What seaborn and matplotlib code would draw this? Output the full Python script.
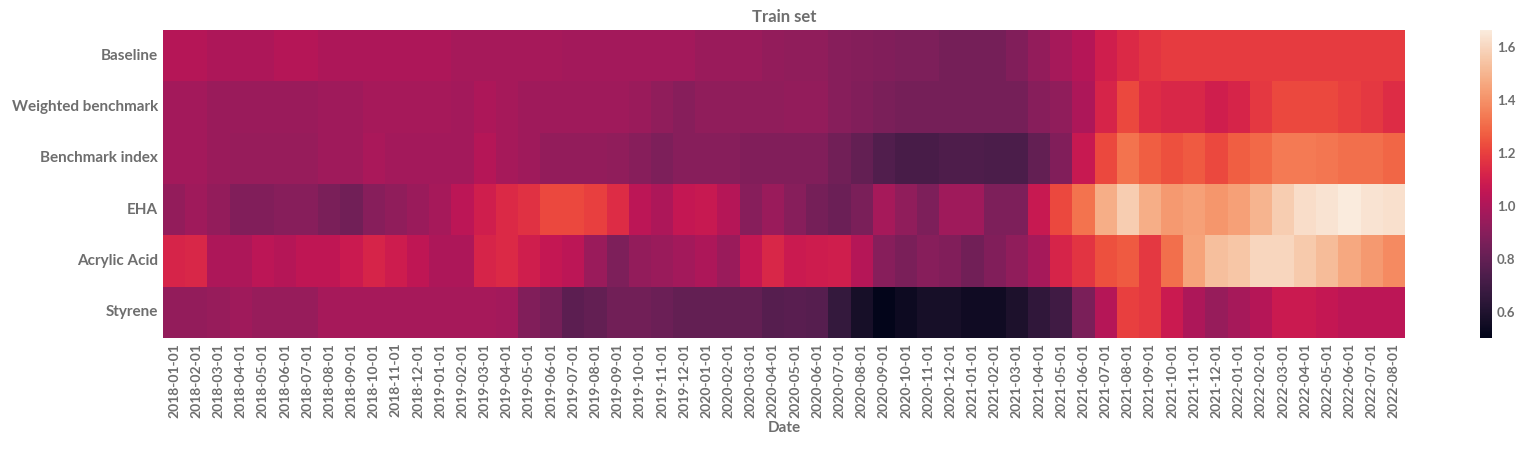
import numpy as np, pandas as pd, matplotlib
matplotlib.use("Agg")
import matplotlib.pyplot as plt
import seaborn as sns

dates = pd.date_range("2018-01-01", "2022-08-01", freq="MS").strftime("%Y-%m-%d").tolist()
rows = ["Baseline", "Weighted benchmark", "Benchmark index", "EHA", "Acrylic Acid", "Styrene"]

baseline = [1.02,1.02,1.0,1.0,1.0,1.02,1.02,1.0,1.0,1.0,1.0,1.0,1.0,0.98,0.98,0.98,0.98,0.98,0.97,0.97,0.97,0.97,0.97,0.97,0.95,0.95,0.95,0.93,
            0.92,0.92,0.9,0.89,0.88,0.87,0.87,0.85,0.85,0.85,0.88,0.93,0.98,1.02,1.1,1.14,1.17,1.19,1.19,1.19,1.19,1.19,1.19,1.19,1.19,1.19,1.19,1.19]
weighted = [0.97,0.97,0.95,0.95,0.95,0.95,0.95,0.96,0.96,0.98,0.98,0.98,0.98,0.97,1.0,0.98,0.96,0.96,0.96,0.96,0.96,0.95,0.92,0.9,0.92,0.92,0.92,0.92,
            0.93,0.93,0.9,0.88,0.86,0.85,0.85,0.85,0.85,0.85,0.85,0.9,0.92,1.0,1.12,1.22,1.15,1.13,1.13,1.1,1.12,1.18,1.22,1.22,1.22,1.2,1.18,1.15]
bench = [0.97,0.97,0.95,0.94,0.94,0.94,0.94,0.96,0.96,0.99,0.97,0.97,0.97,0.97,1.02,0.98,0.96,0.93,0.93,0.93,0.92,0.9,0.87,0.9,0.9,0.9,0.88,0.88,
         0.88,0.88,0.84,0.8,0.75,0.72,0.72,0.74,0.74,0.73,0.73,0.8,0.88,1.07,1.22,1.32,1.27,1.24,1.26,1.22,1.27,1.3,1.34,1.34,1.33,1.31,1.31,1.29]
eha = [0.93,0.96,0.93,0.88,0.88,0.9,0.9,0.86,0.84,0.9,0.92,0.95,0.98,1.04,1.1,1.14,1.16,1.22,1.22,1.2,1.15,1.04,1.0,1.06,1.07,1.02,0.9,0.95,
       0.9,0.85,0.82,0.86,0.98,0.92,0.87,0.96,0.96,0.87,0.87,1.07,1.22,1.32,1.48,1.57,1.48,1.42,1.44,1.41,1.44,1.5,1.57,1.62,1.64,1.66,1.64,1.63]
acrylic = [1.12,1.13,1.0,1.0,1.04,1.02,1.05,1.05,1.08,1.12,1.09,1.05,1.0,1.0,1.12,1.14,1.1,1.06,1.04,0.95,0.87,0.93,0.95,0.97,1.0,0.95,1.06,1.13,
           1.08,1.09,1.1,1.02,0.9,0.86,0.9,0.88,0.84,0.88,0.92,0.98,1.12,1.17,1.24,1.26,1.18,1.31,1.45,1.53,1.55,1.6,1.6,1.56,1.52,1.46,1.42,1.38]
styrene = [0.93,0.93,0.94,0.96,0.94,0.94,0.94,0.98,0.98,0.98,0.98,0.98,0.98,0.98,0.98,0.97,0.88,0.85,0.78,0.8,0.84,0.84,0.82,0.8,0.8,0.8,0.8,0.76,
           0.77,0.76,0.66,0.57,0.5,0.54,0.57,0.57,0.55,0.55,0.59,0.65,0.7,0.86,1.02,1.2,1.18,1.08,1.0,0.94,0.98,1.02,1.08,1.08,1.06,1.04,1.04,1.04]

df = pd.DataFrame([baseline, weighted, bench, eha, acrylic, styrene], index=rows, columns=dates)

sns.set_theme(style="white")
plt.rcParams['font.family'] = ['Lato', 'DejaVu Sans']
gray = "#6e6e6e"
fig = plt.figure(figsize=(15.37, 4.54), dpi=100)
ax = fig.add_axes([163/1537, 1-338/454, (1405-163)/1537, (338-30)/454])
cax = fig.add_axes([1480/1537, 1-338/454, 12/1537, (338-30)/454])
sns.heatmap(df, ax=ax, cbar_ax=cax, cmap="rocket", vmin=0.5, vmax=1.664)
ax.set_title("Train set", fontsize=12, fontweight="bold", color=gray)
ax.set_xlabel("Date", fontsize=11, fontweight="bold", color=gray, labelpad=2)
ax.set_ylabel("")
ax.set_xticks(np.arange(len(dates)) + 0.5)
ax.set_xticklabels(dates, rotation=90, fontsize=10, fontweight="bold", color=gray)
ax.set_yticklabels(rows, rotation=0, fontsize=11, fontweight="bold", color=gray)
ax.tick_params(length=0)
cax.tick_params(labelsize=9.5, labelcolor=gray, length=0)
cax.set_yticks([0.6, 0.8, 1.0, 1.2, 1.4, 1.6])
for t in cax.get_yticklabels():
    t.set_fontweight("bold")
fig.savefig("out.png", dpi=100)
